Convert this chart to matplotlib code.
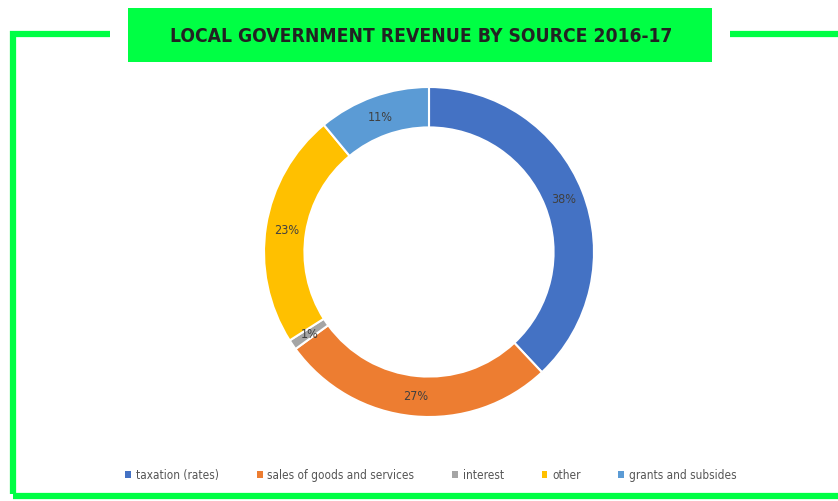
import matplotlib.pyplot as plt
from matplotlib.patches import Rectangle
from matplotlib.lines import Line2D
import numpy as np

labels = ['taxation (rates)', 'sales of goods and services', 'interest', 'other', 'grants and subsides']
values = [38, 27, 1, 23, 11]
colors = ['#4472C4', '#ED7D31', '#A5A5A5', '#FFC000', '#5B9BD5']
title = 'LOCAL GOVERNMENT REVENUE BY SOURCE 2016-17'

W, H = 838, 502
fig = plt.figure(figsize=(W / 100, H / 100), dpi=100)
fig.patch.set_facecolor('white')

green = '#00FF44'


def px(x, y):
    # pixel coords from top-left -> figure fraction
    return x / W, 1 - y / H


# green frame
lw = 4.5
fig.add_artist(Line2D([13 / W, 13 / W, 110 / W], [1 - 495 / H, 1 - 35 / H, 1 - 35 / H],
                      color=green, lw=lw, solid_capstyle='butt', solid_joinstyle='miter'))
fig.add_artist(Line2D([730 / W, 1], [1 - 35 / H, 1 - 35 / H], color=green, lw=lw,
                      solid_capstyle='butt'))
fig.add_artist(Line2D([13 / W, 1], [1 - 497 / H, 1 - 497 / H], color=green, lw=lw,
                      solid_capstyle='butt'))

# title box
x0, y0 = px(128, 63)
fig.add_artist(Rectangle((x0, y0), (712 - 128) / W, (63 - 9) / H, transform=fig.transFigure,
                         facecolor=green, edgecolor='none'))
tx, ty = px(421, 36)
fig.text(tx, ty, title, ha='center', va='center', fontsize=13.8, fontweight='bold',
         color='#222222', family='DejaVu Sans', fontstretch='condensed')

# donut
cx, cy, r = 429, 253, 165
ax = fig.add_axes([(cx - r) / W, 1 - (cy + r) / H, 2 * r / W, 2 * r / H])
wedges, _ = ax.pie(values, colors=colors, startangle=90, counterclock=False, radius=1,
                   wedgeprops=dict(width=0.245, edgecolor='white', linewidth=1.5))
ax.set_xlim(-1, 1)
ax.set_ylim(-1, 1)
ax.set_aspect('equal')
ax.axis('off')

ang = 90
for v in values:
    mid = np.deg2rad(ang - 360 * v / 200)
    ang -= 360 * v / 100
    rr = 0.875
    ax.text(rr * np.cos(mid), rr * np.sin(mid), f'{v}%', ha='center', va='center',
            fontsize=9, color='#404040', family='DejaVu Sans', fontstretch='condensed')

# legend
handles = [Rectangle((0, 0), 1, 1, facecolor=c, edgecolor='none') for c in colors]
leg = fig.legend(handles, labels, loc='center', bbox_to_anchor=px(431, 476), ncol=5,
                 frameon=False, handlelength=0.5, handleheight=0.5, handletextpad=0.4,
                 columnspacing=3.2, prop={'family': 'DejaVu Sans', 'stretch': 'condensed',
                                          'size': 8.5})
for t in leg.get_texts():
    t.set_color('#555555')

fig.savefig('out.png', dpi=100)
